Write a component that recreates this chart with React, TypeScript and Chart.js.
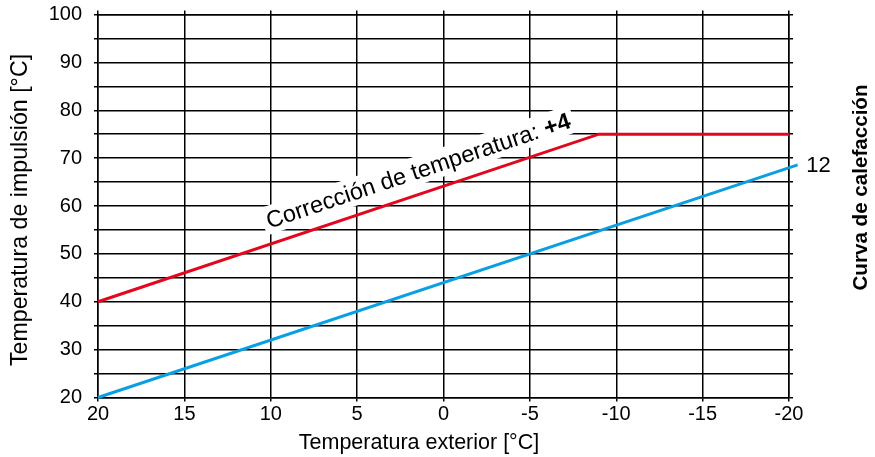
import React, { useEffect, useRef } from 'react';
import { Chart, registerables } from 'chart.js';

Chart.register(...registerables);

// ---- data ----
const RED_X = [20, -9, -20];
const RED_Y = [40, 75, 75];
const BLUE_X = [20, -20.5];
const BLUE_Y = [20, 68.6];

const X_MIN = -20;
const X_MAX = 20;
const X_STEP = 5;
const Y_MIN = 20;
const Y_MAX = 100;
const Y_STEP = 5;
const Y_LABEL_STEP = 10;

const X_TITLE = 'Temperatura exterior [°C]';
const Y_TITLE = 'Temperatura de impulsión [°C]';
const RIGHT_TITLE = 'Curva de calefacción';
const CURVE_LABEL = '12';
const ANNOT_TEXT = 'Corrección de temperatura: ';
const ANNOT_BOLD = '+4';
const ANNOT_X = 1.05;

const RED = '#e2071d';
const BLUE = '#0a9fe0';
const FONT = '"Liberation Sans", Arial, sans-serif';

const overlay = {
  id: 'overlay',
  beforeDatasetsDraw(chart: any) {
    const { ctx, scales } = chart;
    const xs = scales.x;
    const ys = scales.y;
    const x0 = xs.getPixelForValue(RED_X[0]);
    const y0 = ys.getPixelForValue(RED_Y[0]);
    const x1 = xs.getPixelForValue(RED_X[1]);
    const y1 = ys.getPixelForValue(RED_Y[1]);
    const angle = Math.atan2(y1 - y0, x1 - x0);
    const yv = RED_Y[0] + ((ANNOT_X - RED_X[0]) * (RED_Y[1] - RED_Y[0])) / (RED_X[1] - RED_X[0]);
    const ax = xs.getPixelForValue(ANNOT_X);
    const ay = ys.getPixelForValue(yv);
    const fs = 23.5;
    ctx.save();
    ctx.translate(ax, ay);
    ctx.rotate(angle);
    ctx.font = `${fs}px ${FONT}`;
    const w1 = ctx.measureText(ANNOT_TEXT).width;
    ctx.font = `bold ${fs}px ${FONT}`;
    const w2 = ctx.measureText(ANNOT_BOLD).width;
    const w = w1 + w2;
    const base = -15;
    ctx.fillStyle = '#fff';
    ctx.fillRect(-w / 2 - 4, base - 0.95 * fs, w + 8, 1.2 * fs);
    ctx.fillStyle = '#000';
    ctx.textBaseline = 'alphabetic';
    ctx.textAlign = 'left';
    ctx.font = `${fs}px ${FONT}`;
    ctx.fillText(ANNOT_TEXT, -w / 2, base);
    ctx.font = `bold ${fs}px ${FONT}`;
    ctx.fillText(ANNOT_BOLD, -w / 2 + w1, base);
    ctx.restore();
  },
  afterDraw(chart: any) {
    const { ctx, scales } = chart;
    const xs = scales.x;
    const ys = scales.y;
    ctx.save();
    ctx.fillStyle = '#000';
    ctx.textBaseline = 'alphabetic';
    // x title
    ctx.font = `21.5px ${FONT}`;
    ctx.textAlign = 'center';
    ctx.fillText(X_TITLE, 419, 449.3);
    // y title
    ctx.save();
    ctx.font = `23.2px ${FONT}`;
    ctx.translate(27, 210);
    ctx.rotate(-Math.PI / 2);
    ctx.fillText(Y_TITLE, 0, 0);
    ctx.restore();
    // right title
    ctx.save();
    ctx.font = `bold 20.6px ${FONT}`;
    ctx.translate(867, 187.5);
    ctx.rotate(-Math.PI / 2);
    ctx.fillText(RIGHT_TITLE, 0, 0);
    ctx.restore();
    // curve label
    const bx = xs.getPixelForValue(BLUE_X[BLUE_X.length - 1]);
    const by = ys.getPixelForValue(BLUE_Y[BLUE_Y.length - 1]);
    ctx.font = `22px ${FONT}`;
    ctx.textAlign = 'left';
    ctx.fillText(CURVE_LABEL, bx + 8.7, by + 7);
    ctx.restore();
  },
};

export default function App() {
  const ref = useRef<HTMLCanvasElement>(null);
  useEffect(() => {
    if (!ref.current) return;
    Chart.defaults.color = '#000';
    const gridBase = {
      color: '#000',
      lineWidth: 1.5,
      tickLength: 4,
      tickColor: '#000',
      tickWidth: 1.5,
    };
    const border = { color: '#000', width: 1.5 };
    const tickFont = { family: FONT, size: 20 };
    const noPad = (s: any) => {
      s.paddingTop = 0;
      s.paddingBottom = 0;
      s.paddingLeft = 0;
      s.paddingRight = 0;
    };
    const chart = new Chart(ref.current, {
      type: 'scatter',
      data: {
        datasets: [
          {
            data: RED_X.map((x, i) => ({ x, y: RED_Y[i] })),
            showLine: true,
            borderColor: RED,
            backgroundColor: RED,
            borderWidth: 3,
            pointRadius: 0,
            clip: false,
          },
          {
            data: BLUE_X.map((x, i) => ({ x, y: BLUE_Y[i] })),
            showLine: true,
            borderColor: BLUE,
            backgroundColor: BLUE,
            borderWidth: 3,
            pointRadius: 0,
            clip: false,
          },
        ],
      },
      options: {
        animation: false,
        responsive: false,
        devicePixelRatio: 1,
        layout: { padding: 0 },
        plugins: { legend: { display: false }, tooltip: { enabled: false }, title: { display: false } },
        events: [],
        scales: {
          x: {
            type: 'linear',
            axis: 'x',
            position: 'bottom',
            reverse: true,
            min: X_MIN,
            max: X_MAX,
            ticks: {
              stepSize: X_STEP,
              autoSkip: false,
              maxRotation: 0,
              color: '#000',
              font: tickFont,
              padding: 1,
              callback: (v: any) => String(v),
            },
            grid: { ...gridBase },
            border,
            afterFit: (s: any) => {
              s.height = 59.5;
              noPad(s);
            },
          },
          x2: {
            type: 'linear',
            axis: 'x',
            position: 'top',
            reverse: true,
            min: X_MIN,
            max: X_MAX,
            ticks: { stepSize: X_STEP, display: false, autoSkip: false },
            grid: { ...gridBase, drawOnChartArea: false },
            border,
            afterFit: (s: any) => {
              s.height = 14.5;
              noPad(s);
            },
          },
          y: {
            type: 'linear',
            axis: 'y',
            position: 'left',
            min: Y_MIN,
            max: Y_MAX,
            ticks: {
              stepSize: Y_STEP,
              autoSkip: false,
              color: '#000',
              font: tickFont,
              padding: 12,
              callback: (v: any) => (Number(v) % Y_LABEL_STEP === 0 ? String(v) : ''),
            },
            grid: { ...gridBase },
            border,
            afterFit: (s: any) => {
              s.width = 98;
              noPad(s);
            },
          },
          y2: {
            type: 'linear',
            axis: 'y',
            position: 'right',
            min: Y_MIN,
            max: Y_MAX,
            ticks: { stepSize: Y_STEP, display: false, autoSkip: false },
            grid: { ...gridBase, drawOnChartArea: false },
            border,
            afterFit: (s: any) => {
              s.width = 86;
              noPad(s);
            },
          },
        },
      } as any,
      plugins: [overlay],
    });
    return () => chart.destroy();
  }, []);
  return (
    <div style={{ position: 'fixed', left: 0, top: 0, width: 875, height: 457, background: '#fff' }}>
      <canvas ref={ref} width={875} height={457} style={{ display: 'block', width: 875, height: 457 }} />
    </div>
  );
}
